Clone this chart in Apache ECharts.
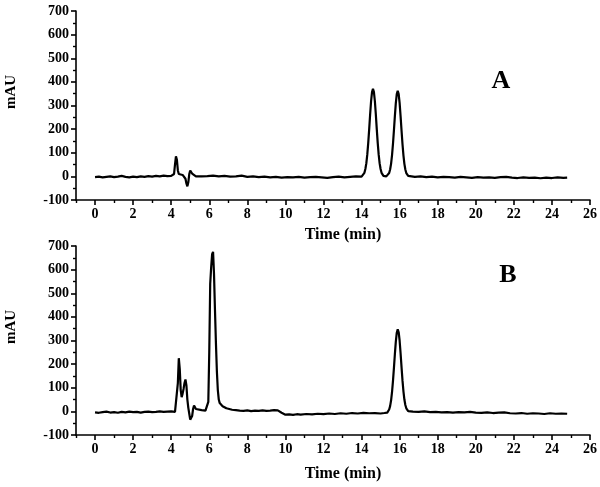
<!DOCTYPE html>
<html><head><meta charset="utf-8">
<script src="https://cdn.jsdelivr.net/npm/echarts@6/dist/echarts.min.js"></script>
<style>html,body{margin:0;padding:0;background:#fff}#c{width:600px;height:487px}</style>
</head><body><div id="c"></div>
<script>
// Panel A chromatogram
const timeA = [0,0.2,0.4,0.6,0.8,1.0,1.2,1.4,1.6,1.8,2.0,2.2,2.4,2.6,2.8,3.0,3.2,3.4,3.6,3.8,4.0,4.1,
 4.15,4.2,4.25,4.3,4.35,4.4,4.5,4.6,4.7,4.75,4.8,4.85,4.9,4.95,5.0,5.05,5.1,5.2,5.3,5.4,
 5.6,5.9,6.2,6.5,6.8,7.1,7.4,7.7,8.0,8.3,8.6,8.9,9.2,9.5,9.8,10.1,10.4,10.7,11.0,11.3,11.6,11.9,12.2,12.5,12.8,13.1,13.4,13.7,14.0,
 14.05,14.1,14.15,14.2,14.25,14.3,14.35,14.4,14.45,14.5,14.55,14.6,14.65,14.7,14.75,14.8,14.85,14.9,14.95,15.0,15.05,15.1,15.15,15.2,15.25,15.3,15.35,
 15.4,15.45,15.5,15.55,15.6,15.65,15.7,15.75,15.8,15.85,15.9,15.95,16.0,16.05,16.1,16.15,16.2,16.25,16.3,16.35,16.4,16.45,16.5,
 16.8,17.1,17.4,17.7,18.0,18.3,18.6,18.9,19.2,19.5,19.8,20.1,20.4,20.7,21.0,21.3,21.6,21.9,22.2,22.5,22.8,23.1,23.4,23.7,24.0,24.3,24.6,24.8];
const mAUA = [-3,-1,-4,-2,0,-3,-1,2,-2,-4,-1,-3,0,-2,1,-1,2,0,3,1,2,0,
 10,50,85,70,25,10,5,6,2,-10,-30,-42,-25,10,25,22,12,4,0,-1,
 0,1,3,0,2,-1,0,3,-2,0,-3,-1,-4,-2,-5,-3,-4,-2,-5,-3,-2,-4,-6,-3,-1,-4,-2,0,-1,
 2,7,15,31,55,92,141,199,262,318,357,371,357,318,262,199,141,92,55,31,15,7,2,0,-1,0,1,
 6,14,29,53,89,137,194,255,310,348,362,348,310,255,194,137,89,53,29,14,6,2,0,
 -2,0,-3,-1,-4,-2,-3,-5,-2,-4,-6,-3,-5,-4,-6,-3,-2,-5,-7,-4,-6,-5,-8,-5,-7,-4,-6,-5];

// Panel B chromatogram
const timeB = [0,0.2,0.4,0.6,0.8,1.0,1.2,1.4,1.6,1.8,2.0,2.2,2.4,2.6,2.8,3.0,3.2,3.4,3.6,3.8,4.0,4.1,4.2,4.3,
 4.35,4.4,4.45,4.5,4.55,4.6,4.65,4.7,4.75,4.8,4.85,4.9,4.95,5.0,5.05,5.1,5.15,5.2,5.25,5.3,5.4,5.6,5.8,5.9,
 5.95,6.0,6.05,6.1,6.15,6.2,6.25,6.3,6.35,6.4,6.45,6.5,6.55,6.6,6.7,6.8,6.9,7.0,7.2,7.4,7.6,7.8,8.0,8.2,8.4,8.6,8.8,9.0,9.2,9.4,9.5,9.6,9.7,9.8,9.9,
 10.0,10.2,10.4,10.6,10.8,11.1,11.4,11.7,12.0,12.3,12.6,12.9,13.2,13.5,13.8,14.1,14.4,14.7,15.0,15.2,15.3,15.35,
 15.4,15.45,15.5,15.55,15.6,15.65,15.7,15.75,15.8,15.85,15.9,15.95,16.0,16.05,16.1,16.15,16.2,16.25,16.3,16.35,16.4,16.45,16.5,
 16.7,17.0,17.3,17.6,17.9,18.2,18.5,18.8,19.1,19.4,19.7,20.0,20.3,20.6,20.9,21.2,21.5,21.8,22.1,22.4,22.7,23.0,23.3,23.6,23.9,24.2,24.5,24.8];
const mAUB = [-4,-6,-3,-1,-5,-3,-6,-2,-4,-1,-3,-2,-5,-2,-1,-3,-2,0,-2,-1,0,2,-2,5,
 120,225,180,90,60,75,95,120,135,110,50,15,-10,-35,-42,-20,10,25,18,10,6,5,3,6,
 40,250,540,610,665,675,580,430,290,170,90,50,35,28,22,17,13,10,7,5,3,2,4,1,3,2,4,2,3,5,6,4,0,-6,-11,
 -14,-13,-15,-12,-14,-11,-13,-10,-12,-9,-11,-8,-10,-7,-9,-6,-8,-7,-9,-7,-6,-5,
 0,8,22,46,81,128,183,242,295,333,347,335,299,246,187,131,85,50,27,13,5,1,-1,
 -1,-2,0,-3,-2,-4,-3,-5,-3,-4,-2,-5,-6,-4,-7,-5,-4,-8,-9,-7,-10,-8,-9,-11,-8,-10,-9,-10];

const xMajorTicks = [0,2,4,6,8,10,12,14,16,18,20,22,24,26];
const xMinorTicks = [-1,1,3,5,7,9,11,13,15,17,19,21,23,25];

const FONT = 'Liberation Serif';
const zip = (t, v) => t.map((x, i) => [x, v[i]]);

function xAxes(gi) {
  return [{
    type: 'value', gridIndex: gi, position: 'bottom', min: -1, max: 26, interval: 1,
    axisLine: {show: true, onZero: false, lineStyle: {color: '#000', width: 1.6}},
    axisTick: {show: true, customValues: xMajorTicks, length: 5, lineStyle: {color: '#000', width: 1.6}},
    axisLabel: {show: true, customValues: xMajorTicks, margin: 7, color: '#000', fontFamily: FONT, fontWeight: 'bold', fontSize: 14},
    splitLine: {show: false}
  }, {
    type: 'value', gridIndex: gi, position: 'bottom', min: -1, max: 26, interval: 1,
    axisLine: {show: false, onZero: false},
    axisTick: {show: true, customValues: xMinorTicks, length: 3, lineStyle: {color: '#000', width: 1.4}},
    axisLabel: {show: false},
    splitLine: {show: false}
  }];
}
function yAxis(gi) {
  return {
    type: 'value', gridIndex: gi, min: -100, max: 700, interval: 100,
    axisLine: {show: true, onZero: false, lineStyle: {color: '#000', width: 1.6}},
    axisTick: {show: true, length: 5, lineStyle: {color: '#000', width: 1.6}},
    minorTick: {show: true, splitNumber: 2, length: 3, lineStyle: {color: '#000', width: 1.4}},
    axisLabel: {margin: 7, color: '#000', fontFamily: FONT, fontWeight: 'bold', fontSize: 14},
    splitLine: {show: false}, minorSplitLine: {show: false}
  };
}
const txt = (x, y, s, size, rot) => ({
  type: 'text', x: x, y: y, rotation: rot || 0,
  style: {text: s, fill: '#000', font: 'bold ' + size + 'px "' + FONT + '"', align: 'center', verticalAlign: 'middle'}
});

const chart = echarts.init(document.getElementById('c'), null, {renderer: 'canvas'});
chart.setOption({
  animation: false,
  backgroundColor: '#fff',
  grid: [
    {left: 76, right: 10, top: 11, height: 189},
    {left: 76, right: 10, top: 246, height: 189}
  ],
  xAxis: [...xAxes(0), ...xAxes(1)],
  yAxis: [yAxis(0), yAxis(1)],
  series: [
    {type: 'line', xAxisIndex: 0, yAxisIndex: 0, data: zip(timeA, mAUA), showSymbol: false,
     lineStyle: {color: '#000', width: 2.2}, z: 5},
    {type: 'line', xAxisIndex: 2, yAxisIndex: 1, data: zip(timeB, mAUB), showSymbol: false,
     lineStyle: {color: '#000', width: 2.2}, z: 5}
  ],
  graphic: [
    txt(11, 92, 'mAU', 15, Math.PI / 2),
    txt(11, 327, 'mAU', 15, Math.PI / 2),
    txt(343, 235, 'Time (min)', 16),
    txt(343, 474, 'Time (min)', 16),
    txt(501, 81, 'A', 26),
    txt(508, 275, 'B', 26)
  ]
});
</script></body></html>
